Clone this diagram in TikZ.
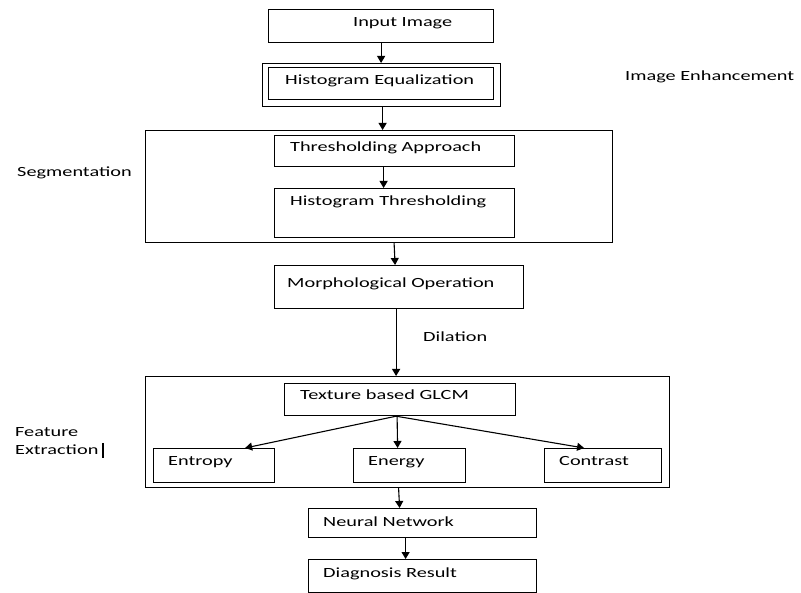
\documentclass[tikz,border=0pt]{standalone}
\usepackage{fontspec}
\setmainfont{Carlito}[FakeStretch=1.45]
\usepackage{tikz}
\usetikzlibrary{arrows.meta}

\tikzset{
  box/.style={draw=black, line width=1.2pt, inner sep=0pt, anchor=north west},
  txt/.style={anchor=base west, inner sep=0pt},
  arr/.style={draw=black, line width=1.1pt, -{Triangle[length=7pt,width=8pt]}}
}

\begin{document}
\begin{tikzpicture}[x=1pt,y=-1pt,font=\fontsize{14}{17}\selectfont]
  \useasboundingbox (0,0) rectangle (801,593);

  \node[box, minimum width=225, minimum height=33] (input) at (268,9) {};
  \node[txt] (input-t) at (353,26.5) {Input Image};

  \node[box, minimum width=238, minimum height=43] (histeq) at (262,63) {};
  \node[box, minimum width=225, minimum height=32] (histeq-in) at (268,67) {};
  \node[txt] (histeq-t) at (285,84.5) {Histogram Equalization};
  \node[txt] (enh) at (625,80.5) {Image Enhancement};

  % segmentation group
  \node[box, minimum width=467, minimum height=112] (seg) at (145,130) {};
  \node[txt] (seg-t) at (17,176.5) {Segmentation};
  \node[box, minimum width=240, minimum height=31] (thr) at (274,135) {};
  \node[txt] (thr-t) at (290,151.5) {Thresholding Approach};
  \node[box, minimum width=240, minimum height=49] (histthr) at (274,188) {};
  \node[txt] (histthr-t) at (290,205.5) {Histogram Thresholding};

  \node[box, minimum width=249, minimum height=43] (morph) at (274,265) {};
  \node[txt] (morph-t) at (287,287.5) {Morphological Operation};
  \node[txt] (dil) at (423,341.5) {Dilation};

  % feature extraction group
  \node[box, minimum width=524, minimum height=111] (feat) at (145,376) {};
  \node[txt] (feat-t) at (15,436.5) {Feature};
  \node[txt] (feat-t2) at (15,454.5) {Extraction};
  \draw[line width=1.8pt] (103,443) -- (103,458);
  \node[box, minimum width=231, minimum height=32] (glcm) at (284,383) {};
  \node[txt] (glcm-t) at (300,399.5) {Texture based GLCM};
  \node[box, minimum width=121, minimum height=34] (entropy) at (153,448) {};
  \node[txt] (entropy-t) at (168,465.5) {Entropy};
  \node[box, minimum width=112, minimum height=34] (energy) at (353,448) {};
  \node[txt] (energy-t) at (368,465.5) {Energy};
  \node[box, minimum width=117, minimum height=34] (contrast) at (544,448) {};
  \node[txt] (contrast-t) at (559,465.5) {Contrast};

  \node[box, minimum width=228, minimum height=29] (neural) at (308,508) {};
  \node[txt] (neural-t) at (323,526.5) {Neural Network};
  \node[box, minimum width=228, minimum height=33] (diag) at (308,559) {};
  \node[txt] (diag-t) at (323,577.5) {Diagnosis Result};

  % connectors
  \draw[arr] (input.south) -- (input.south |- histeq.north);
  \draw[arr] ([xshift=1]histeq.south) -- ([xshift=1]histeq.south |- seg.north);
  \draw[arr] ([xshift=-11]thr.south) -- ([xshift=-11]thr.south |- histthr.north);
  \draw[arr] ([xshift=-5]morph.north |- seg.south) -- ([xshift=-4]morph.north);
  \draw[arr] ([xshift=-3]morph.south) -- ([xshift=-3]morph.south |- feat.north);
  \draw[arr] ([xshift=-4]glcm.south) -- ([xshift=31]entropy.north);
  \draw[arr] ([xshift=-3]glcm.south) -- ([xshift=-12]energy.north);
  \draw[arr] ([xshift=-4]glcm.south) -- ([xshift=-19]contrast.north);
  \draw[arr] ([xshift=-24]neural.north |- feat.south) -- ([xshift=-23]neural.north);
  \draw[arr] ([xshift=-17]neural.south) -- ([xshift=-17]neural.south |- diag.north);
\end{tikzpicture}
\end{document}
